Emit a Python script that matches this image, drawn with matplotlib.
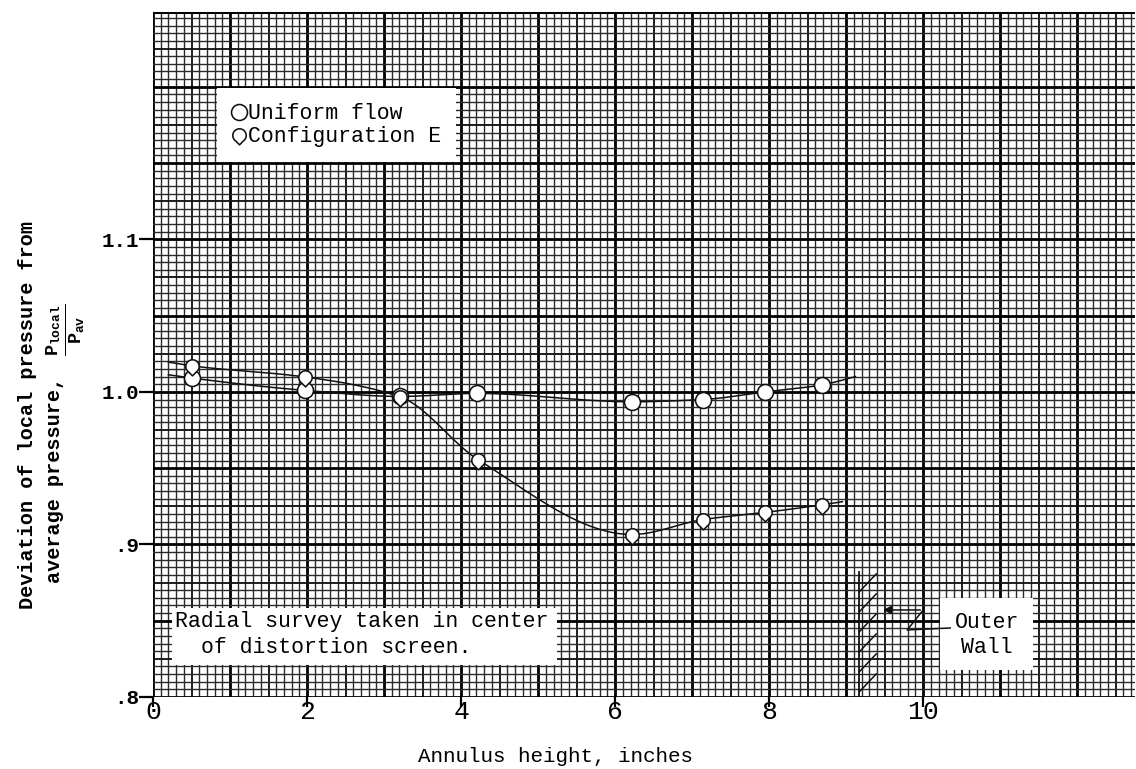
import numpy as np
import matplotlib
matplotlib.use('Agg')
import matplotlib.pyplot as plt
from matplotlib.path import Path
from matplotlib.patches import Rectangle
from matplotlib.lines import Line2D

# ---------------- data ----------------
x_uniform = [0.51, 1.97, 3.21, 4.21, 6.22, 7.14, 7.95, 8.69]
y_uniform = [1.009, 1.001, 0.997, 0.999, 0.9935, 0.995, 1.000, 1.0046]
x_config_e = [0.51, 1.97, 3.21, 4.22, 6.22, 7.14, 7.95, 8.69]
y_config_e = [1.017, 1.0098, 0.9967, 0.9556, 0.9065, 0.9163, 0.921, 0.926]
# faired-curve ends (start, end)
uniform_curve_x_ends = [0.2, 9.12]
uniform_curve_y_ends = [1.0112, 1.010]
config_curve_x_ends = [0.2, 8.95]
config_curve_y_ends = [1.0195, 0.928]

x_ticks = [0, 2, 4, 6, 8, 10]
x_tick_labels = ['0', '2', '4', '6', '8', '10']
y_ticks = [0.8, 0.9, 1.0, 1.1]
y_tick_labels = ['.8', '.9', '1.0', '1.1']
legend_labels = ['Uniform flow', 'Configuration E']

FONT = ['Liberation Mono', 'DejaVu Sans Mono', 'DejaVu Sans']
plt.rcParams['font.family'] = FONT
plt.rcParams['mathtext.fontset'] = 'custom'
plt.rcParams['mathtext.rm'] = 'Liberation Mono:bold'
plt.rcParams['mathtext.it'] = 'Liberation Mono:bold'
plt.rcParams['mathtext.bf'] = 'Liberation Mono:bold'

W, H = 1136, 769
fig = plt.figure(figsize=(W / 100, H / 100), dpi=100)
ax = fig.add_axes([153 / W, 1 - 697 / H, 982 / W, 685 / H])
X0, X1 = 0.0, 12.75
Y0, Y1 = 0.8, 1.249
ax.set_xlim(X0, X1)
ax.set_ylim(Y0, Y1)
for s in ax.spines.values():
    s.set_visible(False)


def P(px, py):
    """pixel of the reference -> data coordinates"""
    return (px - 153) / 77.0, 1.0 + (392 - py) / 1525.0


# ---------------- graph paper ----------------
def grid_style(k):
    if k % 10 == 0:
        return 'black', 2.0
    if k % 5 == 0:
        return '#151515', 1.35
    return '#2a2a2a', 1.0


for i in range(0, 128):
    xv = i * 0.1
    if xv > X1:
        break
    c, w = grid_style(i)
    ax.axvline(xv, color=c, lw=w, zorder=1)
for j in range(0, 91):
    yv = Y0 + j * 0.005
    if yv > Y1 + 1e-9:
        break
    c, w = grid_style(j)
    ax.axhline(yv, color=c, lw=w, zorder=1)
ax.axhline(Y1, color='black', lw=2.2, zorder=1)


# ---------------- faired curves (monotone cubic through the points) -------
def faired(xs, ys, n=25):
    x = np.asarray(xs, float)
    y = np.asarray(ys, float)
    h = np.diff(x)
    d = np.diff(y) / h
    m = np.zeros_like(x)
    m[0], m[-1] = d[0], d[-1]
    for k in range(1, len(x) - 1):
        if d[k - 1] * d[k] > 0:
            w1 = 2 * h[k] + h[k - 1]
            w2 = h[k] + 2 * h[k - 1]
            m[k] = (w1 + w2) / (w1 / d[k - 1] + w2 / d[k])
    ox, oy = [], []
    for k in range(len(x) - 1):
        t = np.linspace(0, 1, n, endpoint=False)
        h00 = 2 * t ** 3 - 3 * t ** 2 + 1
        h10 = t ** 3 - 2 * t ** 2 + t
        h01 = -2 * t ** 3 + 3 * t ** 2
        h11 = t ** 3 - t ** 2
        ox.append(x[k] + t * h[k])
        oy.append(h00 * y[k] + h10 * h[k] * m[k] + h01 * y[k + 1] +
                  h11 * h[k] * m[k + 1])
    ox.append([x[-1]])
    oy.append([y[-1]])
    return np.concatenate(ox), np.concatenate(oy)


ux = [uniform_curve_x_ends[0]] + x_uniform + [uniform_curve_x_ends[1]]
uy = [uniform_curve_y_ends[0]] + y_uniform + [uniform_curve_y_ends[1]]
cx = [config_curve_x_ends[0]] + x_config_e + [config_curve_x_ends[1]]
cy = [config_curve_y_ends[0]] + y_config_e + [config_curve_y_ends[1]]
sx, sy = faired(ux, uy)
ax.plot(sx, sy, color='#111111', lw=1.1, zorder=3)
sx, sy = faired(cx, cy)
ax.plot(sx, sy, color='#111111', lw=1.1, zorder=3)

# teardrop (rounded top, pointed bottom) marker for configuration E
th = np.radians(np.linspace(-55, 235, 40))
verts = np.column_stack([np.cos(th), np.sin(th)])
verts = np.vstack([verts, [[0.0, -1.4]], [verts[0]]])
codes = [Path.MOVETO] + [Path.LINETO] * (len(verts) - 2) + [Path.CLOSEPOLY]
tear = Path(verts, codes)

ax.plot(x_uniform, y_uniform, linestyle='none', marker='o', ms=11.5,
        mfc='white', mec='#111111', mew=1.15, zorder=4)
ax.plot(x_config_e, y_config_e, linestyle='none', marker=tear, ms=13.5,
        mfc='white', mec='#111111', mew=1.15, zorder=4)

# ---------------- ticks ----------------
ax.set_xticks(x_ticks)
ax.set_xticklabels(x_tick_labels, fontsize=19)
ax.set_yticks(y_ticks)
ax.set_yticklabels(y_tick_labels, fontsize=15, fontweight='bold')
ax.tick_params(axis='y', direction='out', length=10, width=1.6,
               color='black', pad=0)
ax.tick_params(axis='x', direction='out', length=7, width=1.6,
               color='black', pad=-5)

# ---------------- legend ----------------
handles = [Line2D([], [], linestyle='none', marker='o', ms=11.5, mfc='white',
                  mec='#111111', mew=1.15),
           Line2D([], [], linestyle='none', marker=tear, ms=13.5, mfc='white',
                  mec='#111111', mew=1.15)]
leg = fig.legend(handles, legend_labels, loc='upper left',
                 bbox_to_anchor=(217 / W, 1 - 88 / H), frameon=True,
                 fancybox=False, framealpha=1, facecolor='white',
                 edgecolor='none', fontsize=15.5, handlelength=0.6,
                 handletextpad=0.15, borderpad=0.7, labelspacing=0.1,
                 borderaxespad=0)

# ---------------- note boxes ----------------
def white_box(px0, py0, px1, py1):
    xa, ya = P(px0, py1)
    xb, yb = P(px1, py0)
    ax.add_patch(Rectangle((xa, ya), xb - xa, yb - ya, facecolor='white',
                           edgecolor='none', zorder=5))


white_box(172, 608, 557, 665)
tx, ty = P(175, 622)
ax.text(tx, ty, 'Radial survey taken in center', fontsize=15.5, va='center',
        ha='left', zorder=6)
tx, ty = P(201, 648)
ax.text(tx, ty, 'of distortion screen.', fontsize=15.5, va='center',
        ha='left', zorder=6)

white_box(940, 598, 1033, 670)
tx, ty = P(987, 623)
ax.text(tx, ty, 'Outer', fontsize=15.5, va='center', ha='center', zorder=6)
tx, ty = P(987, 648)
ax.text(tx, ty, 'Wall', fontsize=15.5, va='center', ha='center', zorder=6)

# outer wall with hatching
wx, wy0 = P(859, 572)
_, wy1 = P(859, 697)
ax.plot([wx, wx], [wy0, wy1], color='#111111', lw=1.3, zorder=6)
for py in [580, 600, 620, 640, 660, 680]:
    a = P(859, py + 12)
    b = P(876, py - 6)
    ax.plot([a[0], b[0]], [a[1], b[1]], color='#111111', lw=1.1, zorder=6)

# zig-zag leader arrow
path_px = [(950, 628), (907, 630), (923, 610), (880, 610)]
pts = [P(*p) for p in path_px]
ax.plot([p[0] for p in pts[:-1]], [p[1] for p in pts[:-1]], color='#111111',
        lw=1.1, zorder=6)
ax.annotate('', xy=pts[-1], xytext=pts[-2],
            arrowprops=dict(arrowstyle='-|>', color='#111111', lw=1.1,
                            mutation_scale=12), zorder=6)

# ---------------- axis titles ----------------
fig.text(555 / W, 1 - 757 / H, 'Annulus height, inches', fontsize=15,
         ha='center', va='center')
fig.text(28 / W, 1 - 415 / H, 'Deviation of local pressure from',
         fontsize=14.5, fontweight='bold', rotation=90, ha='center',
         va='center')
fig.text(55 / W, 1 - 480 / H, 'average pressure,', fontsize=14.5,
         fontweight='bold', rotation=90, ha='center', va='center')
fig.text(66 / W, 1 - 330 / H, r'$\frac{P_{local}}{P_{av}}$', fontsize=19,
         rotation=90, ha='center', va='center')

fig.savefig('out.png', dpi=100)
